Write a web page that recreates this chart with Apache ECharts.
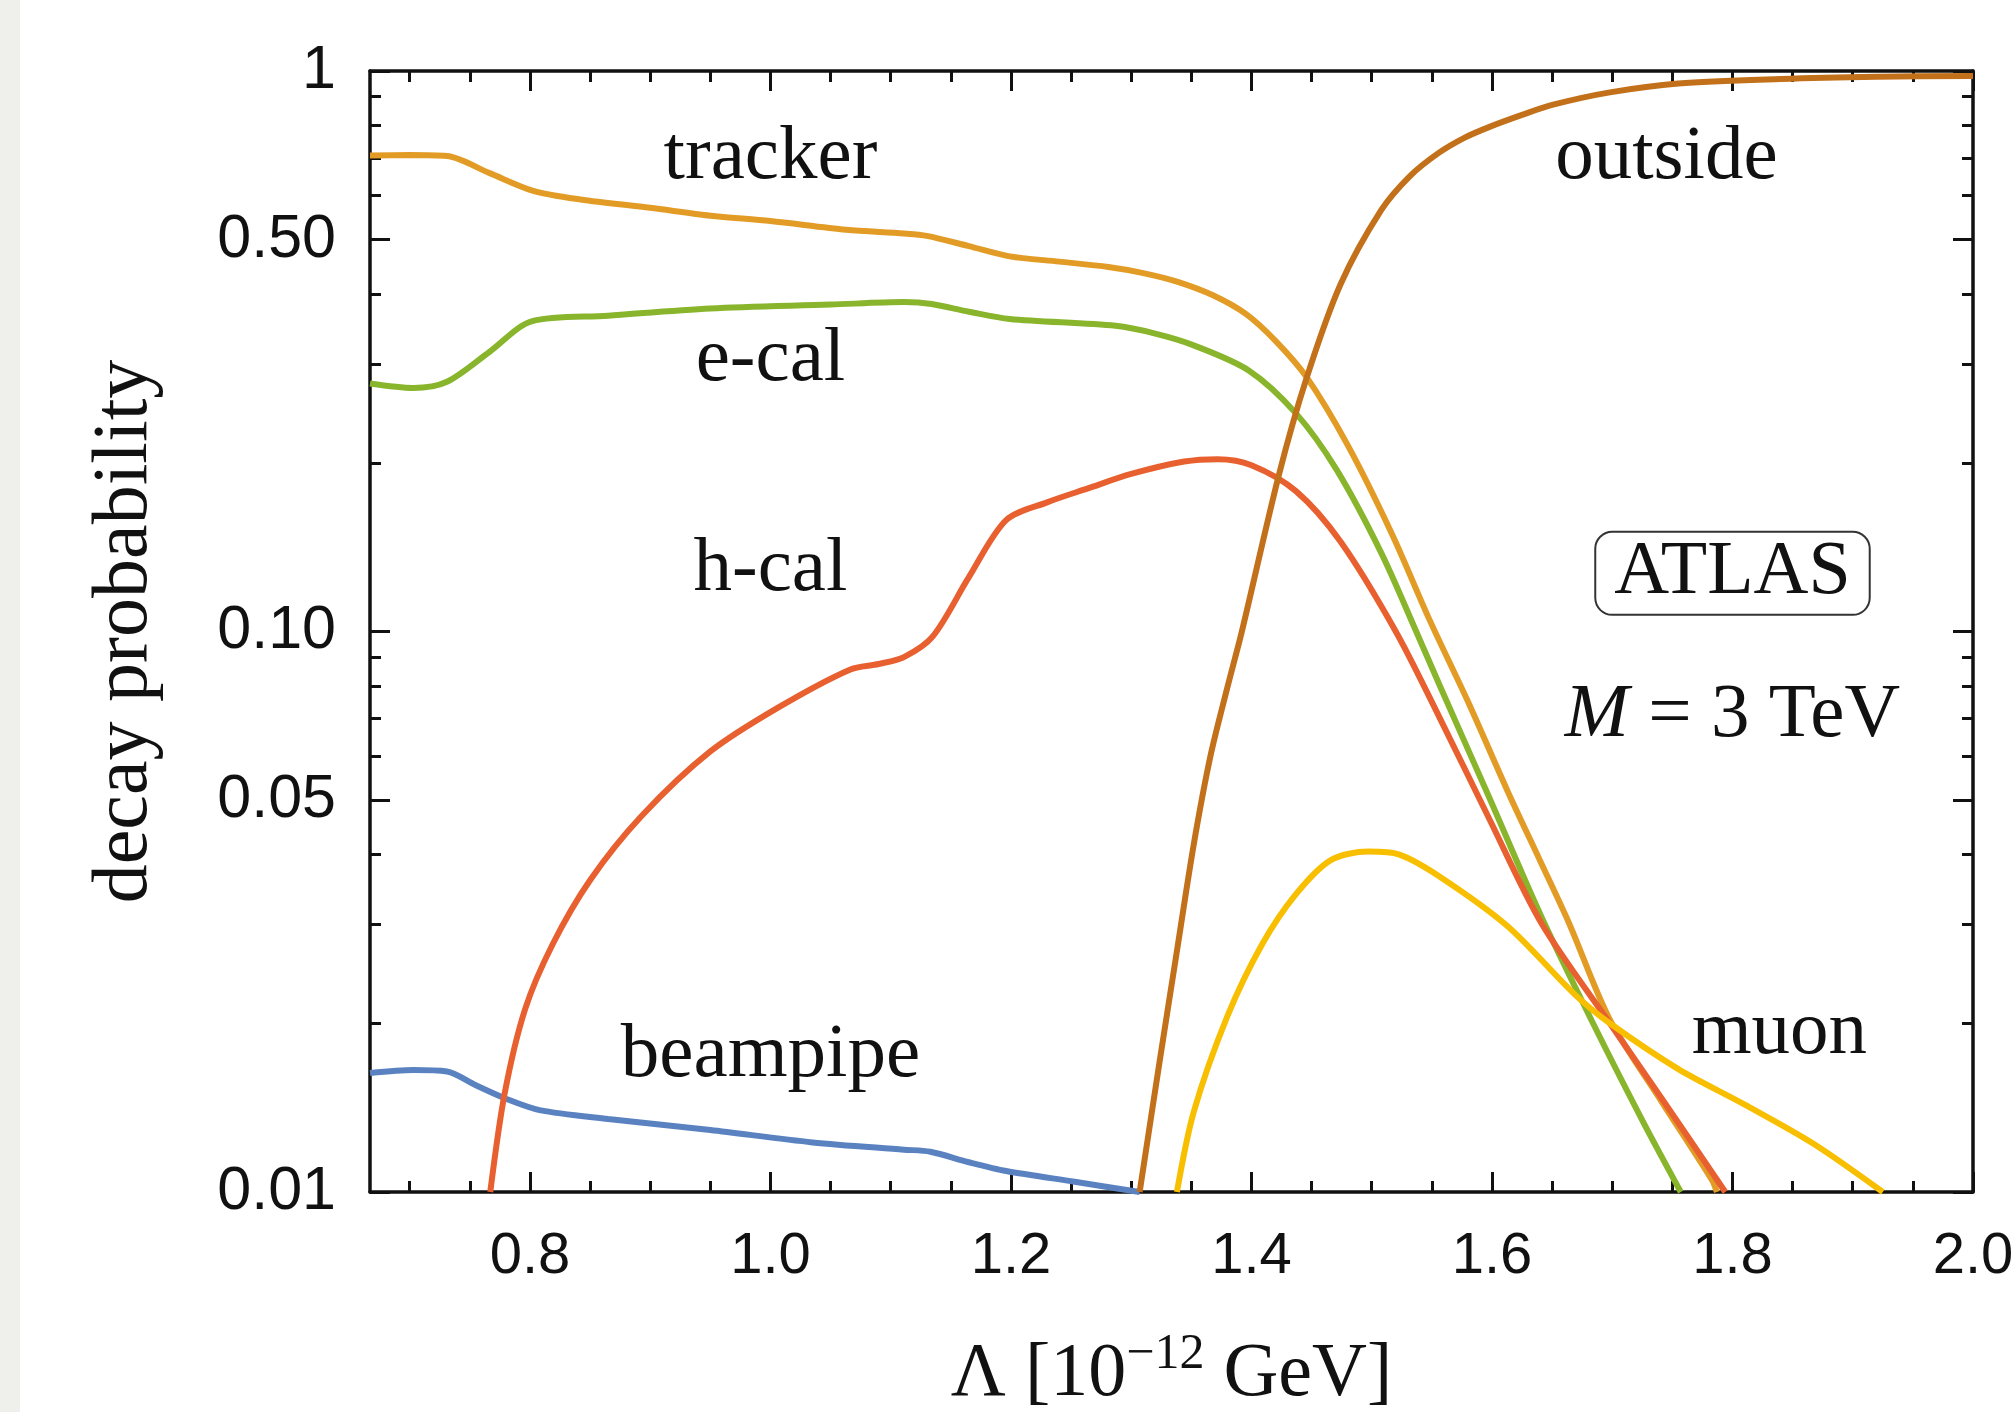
<!DOCTYPE html>
<html>
<head>
<meta charset="utf-8">
<title>decay probability</title>
<script src="https://cdn.jsdelivr.net/npm/echarts@6.0.0/dist/echarts.min.js"></script>
<style>
  html, body { margin: 0; padding: 0; background: #fff; }
  #chart { width: 2014px; height: 1412px; }
</style>
</head>
<body>
<div id="chart"></div>
<script>
// axis ranges and ticks
const xMin = 0.667
const xMax = 2.0
const xMajorTicks = [0.8, 1.0, 1.2, 1.4, 1.6, 1.8, 2.0]
const xMinorTicks = [0.7, 0.75, 0.85, 0.9, 0.95, 1.05, 1.1, 1.15, 1.25, 1.3, 1.35, 1.45, 1.5, 1.55, 1.65, 1.7, 1.75, 1.85, 1.9, 1.95]
const yMajorTicks = [0.01, 0.05, 0.1, 0.5, 1]
const yMajorLabels = ['0.01', '0.05', '0.10', '0.50', '1']
const yMinorTicks = [0.02, 0.03, 0.04, 0.06, 0.07, 0.08, 0.09, 0.2, 0.3, 0.4, 0.6, 0.7, 0.8, 0.9]

// curves [Lambda, probability]
const trackerData = [
  [0.667, 0.707], [0.700, 0.708], [0.731, 0.705], [0.766, 0.658], [0.802, 0.612], [0.842, 0.590],
  [0.900, 0.570], [0.950, 0.552], [1.000, 0.540], [1.063, 0.521], [1.111, 0.513], [1.130, 0.508],
  [1.165, 0.487], [1.199, 0.467], [1.240, 0.457], [1.281, 0.447], [1.310, 0.436], [1.338, 0.421],
  [1.368, 0.398], [1.395, 0.369], [1.420, 0.330], [1.446, 0.284], [1.480, 0.215], [1.517, 0.149],
  [1.548, 0.105], [1.580, 0.075], [1.613, 0.0519], [1.640, 0.039], [1.664, 0.0302], [1.698, 0.0203],
  [1.741, 0.0145], [1.783, 0.0105], [1.787, 0.0100]
]
const ecalData = [
  [0.667, 0.277], [0.703, 0.272], [0.731, 0.279], [0.766, 0.315], [0.802, 0.358], [0.865, 0.366],
  [0.950, 0.377], [1.050, 0.383], [1.111, 0.387], [1.134, 0.384], [1.165, 0.372], [1.199, 0.361],
  [1.287, 0.351], [1.320, 0.340], [1.352, 0.324], [1.398, 0.292], [1.437, 0.245], [1.471, 0.194],
  [1.508, 0.138], [1.537, 0.100], [1.556, 0.0806], [1.598, 0.0504], [1.641, 0.031], [1.684, 0.020],
  [1.726, 0.0133], [1.757, 0.0100]
]
const hcalData = [
  [0.767, 0.0100], [0.779, 0.0150], [0.796, 0.0212], [0.819, 0.0277], [0.850, 0.036], [0.893, 0.0469],
  [0.950, 0.0611], [1.007, 0.0733], [1.066, 0.0855], [1.090, 0.0875], [1.111, 0.090], [1.135, 0.098],
  [1.165, 0.125], [1.196, 0.158], [1.230, 0.170], [1.264, 0.180], [1.300, 0.191], [1.344, 0.201],
  [1.372, 0.203], [1.400, 0.198], [1.437, 0.178], [1.474, 0.1447], [1.520, 0.100], [1.556, 0.0705],
  [1.598, 0.0462], [1.641, 0.0302], [1.698, 0.020], [1.741, 0.0147], [1.794, 0.0100]
]
const beampipeData = [
  [0.667, 0.0163], [0.703, 0.0165], [0.731, 0.0164], [0.755, 0.0155], [0.779, 0.0147], [0.808, 0.0140],
  [0.865, 0.0135], [0.950, 0.0129], [1.035, 0.01226], [1.111, 0.0119], [1.133, 0.0118], [1.165, 0.0113],
  [1.196, 0.0109], [1.253, 0.01043], [1.307, 0.0100]
]
const outsideData = [
  [1.307, 0.0100], [1.324, 0.0173], [1.338, 0.0269], [1.352, 0.0417], [1.366, 0.0601], [1.380, 0.0795],
  [1.392, 0.100], [1.423, 0.191], [1.446, 0.284], [1.474, 0.416], [1.508, 0.565], [1.532, 0.650],
  [1.556, 0.715], [1.577, 0.760], [1.598, 0.795], [1.625, 0.835], [1.650, 0.870], [1.698, 0.916],
  [1.755, 0.950], [1.840, 0.968], [1.920, 0.977], [2.000, 0.980]
]
const muonData = [
  [1.338, 0.0100], [1.352, 0.0139], [1.380, 0.0206], [1.409, 0.0277], [1.437, 0.034], [1.466, 0.0391],
  [1.497, 0.0405], [1.523, 0.040], [1.556, 0.0366], [1.613, 0.0298], [1.669, 0.0225], [1.698, 0.0200],
  [1.755, 0.01657], [1.811, 0.01429], [1.868, 0.01217], [1.925, 0.0100]
]

// text labels inside the frame, placed at data coordinates
const annotations = [
  { text: 'tracker', x: 1.0, y: 0.70 },
  { text: 'e-cal', x: 1.0, y: 0.305 },
  { text: 'h-cal', x: 1.0, y: 0.129 },
  { text: 'beampipe', x: 1.0, y: 0.0175 },
  { text: 'outside', x: 1.745, y: 0.70 },
  { text: 'muon', x: 1.839, y: 0.0192 }
]
const boxLabel = { text: 'ATLAS', x: 1.800, y: 0.127 }
const massLabel = { text: '{i|M} = 3 TeV', x: 1.800, y: 0.0706 }

const ink = '#111'
const sans = 'Liberation Sans'
const serif = 'Liberation Serif'

const chart = echarts.init(document.getElementById('chart'))

const xAxisDef = (position, ticks, len, showLine, showLabels) => ({
  type: 'value',
  position,
  min: xMin,
  max: xMax,
  axisLine: { show: showLine, onZero: false, lineStyle: { color: ink, width: 3.5 } },
  axisTick: { show: true, inside: true, length: len, customValues: ticks, lineStyle: { color: ink, width: 3 } },
  axisLabel: {
    show: showLabels,
    customValues: ticks,
    margin: 36,
    color: ink,
    fontFamily: sans,
    fontSize: 58,
    formatter: v => v.toFixed(1)
  },
  splitLine: { show: false }
})

const yAxisDef = (position, ticks, len, showLine, showLabels) => ({
  type: 'log',
  logBase: 10,
  position,
  min: 0.01,
  max: 1,
  axisLine: { show: showLine, onZero: false, lineStyle: { color: ink, width: 3.5 } },
  axisTick: { show: true, inside: true, length: len, customValues: ticks, lineStyle: { color: ink, width: 3 } },
  axisLabel: {
    show: showLabels,
    customValues: ticks,
    margin: 34,
    color: ink,
    fontFamily: sans,
    fontSize: 61,
    formatter: v => {
      const i = yMajorTicks.findIndex(t => Math.abs(Math.log10(t) - Math.log10(v)) < 1e-6)
      return i >= 0 ? yMajorLabels[i] : ''
    }
  },
  splitLine: { show: false }
})

const xBottom = xAxisDef('bottom', xMajorTicks, 20, true, true)
xBottom.name = '{a|Λ [10}{b|−12}{a| GeV]}'
xBottom.nameLocation = 'middle'
xBottom.nameGap = 138
xBottom.nameTextStyle = {
  rich: {
    a: { fontFamily: serif, fontSize: 76, lineHeight: 90, color: ink },
    b: { fontFamily: serif, fontSize: 50, lineHeight: 90, verticalAlign: 'top', color: ink }
  }
}

const yLeft = yAxisDef('left', yMajorTicks, 20, true, true)
yLeft.name = 'decay probability'
yLeft.nameLocation = 'middle'
yLeft.nameGap = 205
yLeft.nameTextStyle = { fontFamily: serif, fontSize: 78, color: ink }

const lineSeries = (name, data, color) => ({
  name,
  type: 'line',
  xAxisIndex: 0,
  yAxisIndex: 0,
  data,
  showSymbol: false,
  smooth: 0.3,
  clip: true,
  lineStyle: { color, width: 6 },
  itemStyle: { color }
})

const option = {
  animation: false,
  backgroundColor: '#fff',
  grid: { left: 370, right: 41, top: 71, bottom: 220, outerBoundsMode: 'none' },
  xAxis: [
    xBottom,
    xAxisDef('bottom', xMinorTicks, 11, false, false),
    xAxisDef('top', xMajorTicks, 20, true, false),
    xAxisDef('top', xMinorTicks, 11, false, false)
  ],
  yAxis: [
    yLeft,
    yAxisDef('left', yMinorTicks, 11, false, false),
    yAxisDef('right', yMajorTicks, 20, true, false),
    yAxisDef('right', yMinorTicks, 11, false, false)
  ],
  series: [
    lineSeries('tracker', trackerData, '#e29c26'),
    lineSeries('beampipe', beampipeData, '#5a82c0'),
    lineSeries('e-cal', ecalData, '#88b52c'),
    lineSeries('h-cal', hcalData, '#e8602f'),
    lineSeries('outside', outsideData, '#c2701a'),
    lineSeries('muon', muonData, '#f8bf00')
  ]
}

chart.setOption(option)

const toPixel = a => chart.convertToPixel({ xAxisIndex: 0, yAxisIndex: 0 }, [a.x, a.y])

const textGraphic = (a, extra) => {
  const p = toPixel(a)
  return {
    type: 'text',
    x: p[0],
    y: p[1],
    z: 10,
    style: Object.assign({
      text: a.text,
      fontFamily: serif,
      fontSize: 77,
      fill: ink,
      align: 'center',
      verticalAlign: 'middle'
    }, extra || {})
  }
}

chart.setOption({
  graphic: [
    { type: 'rect', shape: { x: 0, y: 0, width: 20, height: 1412 }, style: { fill: '#efefec' }, z: -1 },
    ...annotations.map(a => textGraphic(a)),
    textGraphic(boxLabel, {
      fontSize: 76,
      lineHeight: 76,
      backgroundColor: '#fff',
      borderColor: '#333',
      borderWidth: 2,
      borderRadius: 16,
      padding: [3, 18, 2, 18]
    }),
    textGraphic(massLabel, {
      rich: { i: { fontFamily: serif, fontSize: 77, fontStyle: 'italic', fill: ink } }
    })
  ]
})

window.addEventListener('resize', () => {
  chart.resize()
})
</script>
</body>
</html>
